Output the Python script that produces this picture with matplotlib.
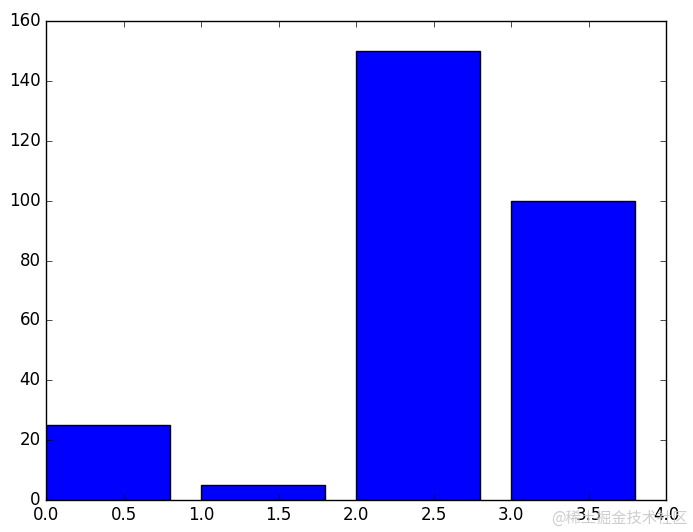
import matplotlib
matplotlib.use("Agg")
import matplotlib.pyplot as plt

plt.style.use('classic')
plt.rcParams['font.family'] = ['DejaVu Sans']

positions = [0, 1, 2, 3]
values = [25, 5, 150, 100]

fig = plt.figure(figsize=(6.93, 5.32), dpi=100)
fig.patch.set_facecolor('white')
ax = fig.add_axes([46/693, 1-500/532, 620/693, 479/532])
ax.bar(positions, values, width=0.8, align='edge', color='blue', edgecolor='black')
ax.set_xlim(0, 4)
ax.set_ylim(0, 160)

fig.text(688/693, 1-518/532, '@稀土掘金技术社区', ha='right', va='center',
         fontsize=11, color='#c8c8c8', alpha=0.9,
         family=['Noto Sans CJK SC', 'DejaVu Sans'])

fig.savefig('out.png', dpi=100, facecolor='white')
